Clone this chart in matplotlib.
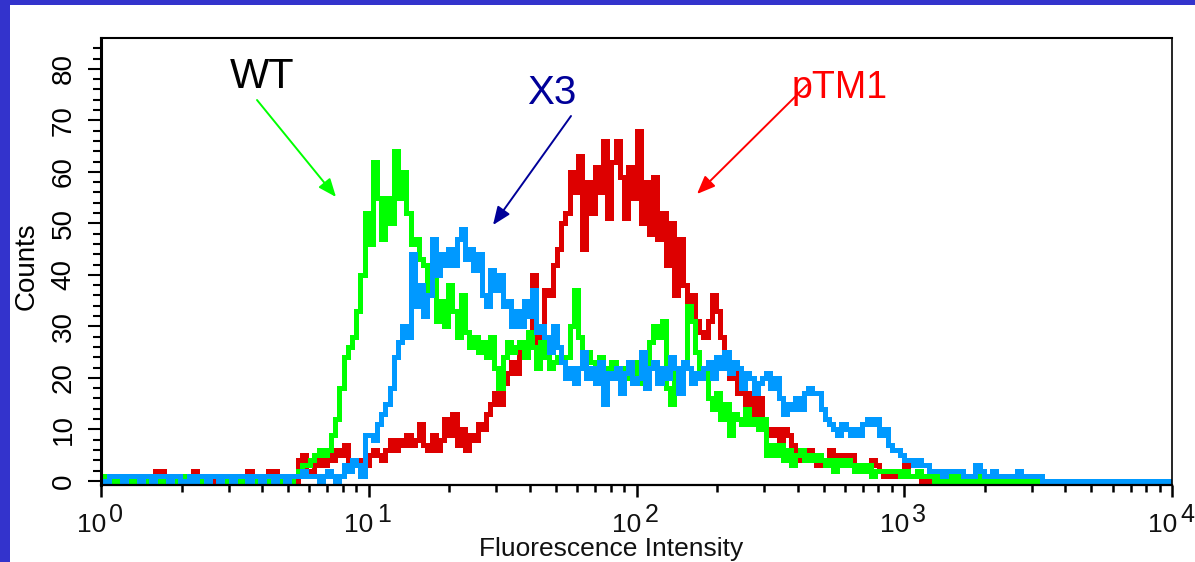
import numpy as np
import matplotlib
matplotlib.use("Agg")
import matplotlib.pyplot as plt
import matplotlib.transforms as mtransforms
from matplotlib.patches import Rectangle
from matplotlib.ticker import FixedLocator, NullFormatter

# ---------------- data (256 log channels, 10^0 .. 10^4) ----------------
wt_counts = (
    [1,1,0,0,0,0,0,0,0,0, 0,0,0,0,0,0,0,0,1,1, 1,0,0,0,0,0,1,1,0,0,
     0,0,0,0,0,0,0,0,0,0, 0,0,0,0,0]
    + [0,1,2,3,3, 4,5,6,5,6, 9,12,18,24,26,28,33,40,52]
    + [46,62,55,47,55,50,64,55,60,52,
       46,47,43,42,36,44,31,35,30,38,
       33,28,36,29,26,28,25,27,24,28,
       22,18,24,27,25,26,27,24,29,26,
       22,27,24,22,23,24,23,24,30,37,
       28,24,25,23,21,24,22,20,23,22,
       19,22,20,23]
    + [19,22,20,27,30,28,31,18,15,22,
       21,23,34,31,25,20,22,16,14,17,
       12,15,9,13,12,11,14,11,12,10,
       12,5,7,5,7,4,6,3,5,6,
       4,5,4,5,4,3,4,2,4,3,
       4,3,2,3,2,3,1,2,2,2,
       2,2,2,1]
    + [2,1,1,2,1,1,1,0,1,0,
       1,0,1,0,1,0,0,1,0,0,
       1,0,0,1,0,0,0,0,0,1]
    + [0] * 34
)

x3_counts = (
    [0,0,1,1,1,0,1,1,1,0, 1,1,0,1,1,1,0,1,1,0, 0,1,0,1,1,0,1,1,0,1,
     1,0,1,1,1,0,1,1,0,1, 1,0,1,1,0,1,1,1,2,1]
    + [1,1,0,1,2,1,0,1,3,2,4,3,1,9]
    + [9,8,11,13,15,18,24,27,30,28,
       44,34,38,32,36,47,40,44,42,45,
       42,47,49,43,45,41,44,36,34,41,
       37,40,34,35,30,33,30,35,32,37,
       29,30,28,25,30,26,23,20,22,19,
       22,25,20,22,19,23,15,21,20,22,
       17,21,23,19]
    + [20,25,18,22,23,19,22,20,24,22,
       17,23,22,19,21,20,22,23,20,24,
       22,25,21,23,22,18,21,20,17,19,
       20,21,18,20,16,13,15,14,16,14,
       17,18,17,17,14,12,11,10,9,11,
       10,9,10,9,11,12,11,12,9,10,
       7,6,6,5]
    + [4,4,3,4,3,3,2,2,2,1,
       2,2,2,2,1,1,1,3,2,1,
       1,2,1,1,1,1,1,2,1,1,
       1,1,1]
    + [0] * 31
)

ptm1_counts = (
    [0,0,0,0,0,1,0,0,0,0, 0,0,1,2,2,1,0,0,0,0, 0,1,2,1,0,0,0,0,0,0,
     0,0,0,0,1,2,1,0,0,1, 2,2,1,0,0,1,0]
    + [4,5,2,1,3,4,3,5,4,6,5,7,4,4,3,4,3]
    + [5,6,5,4,6,8,6,8,7,9,
       7,8,11,7,6,9,6,8,12,9,
       13,7,10,6,9,8,11,10,13,15,
       17,15,19,21,23,21,26,24,27,40,
       26,30,37,36,42,45,50,52,60,56,
       63,45,58,52,61,56,66,51,62,66,
       59,51,61,55]
    + [68,50,58,48,59,47,52,42,50,36,
       47,38,33,36,31,29,28,31,36,33,
       28,24,20,22,17,19,15,17,13,16,
       12,10,9,10,8,10,9,7,6,4,
       5,6,5,3,3,4,6,5,4,5,
       4,5,3,2,3,2,4,3,2,1,
       2,1,1,2]
    + [3,1,1,1,0,0,0,1,0,1,
       0,0,0,0,0,0,0,0,1,0]
    + [0] * 44
)

assert len(wt_counts) == 256 and len(x3_counts) == 256 and len(ptm1_counts) == 256

n_channels = 256
decade_min, decade_max = 0, 4
x_tick_exponents = ["0", "1", "2", "3", "4"]
y_ticks = [0, 10, 20, 30, 40, 50, 60, 70, 80]
y_tick_labels = [str(v) for v in y_ticks]

series_labels = ["WT", "X3", "pTM1"]
line_colors = {"WT": "#00FF00", "X3": "#0099FF", "pTM1": "#DD0000"}
label_colors = {"WT": "#000000", "X3": "#000099", "pTM1": "#FF0000"}
arrow_colors = {"WT": "#00FF00", "X3": "#000099", "pTM1": "#FF0000"}

# ---------------- figure ----------------
W, H = 1195, 562
fig = plt.figure(figsize=(W / 100, H / 100), dpi=100)
fig.patch.set_facecolor("#3333CC")
# white panel inside the blue frame
fig.patches.append(Rectangle((10 / W, 0), 1 - 10 / W, 1 - 5 / H,
                             transform=fig.transFigure, facecolor="white",
                             edgecolor="none", zorder=-10))

ax = fig.add_axes([101 / W, 1 - 485 / H, (1172 - 101) / W, (485 - 38) / H])
ax.set_zorder(1)
ax.set_facecolor("white")

lw = 3.6
edges = np.logspace(decade_min, decade_max, n_channels + 1)
ax.stairs(ptm1_counts, edges, color=line_colors["pTM1"], lw=lw, baseline=None, zorder=2)
ax.stairs(wt_counts, edges, color=line_colors["WT"], lw=lw, baseline=None, zorder=3)
ax.stairs(x3_counts, edges, color=line_colors["X3"], lw=lw, baseline=None, zorder=4)

ax.set_xscale("log")
ax.set_xlim(10 ** decade_min, 10 ** decade_max)
ax.set_ylim(-0.8, 86)

# spines
ax.spines["left"].set_linewidth(2.2)
ax.spines["bottom"].set_linewidth(1.6)
ax.spines["top"].set_linewidth(1.5)
ax.spines["right"].set_linewidth(1.2)
for s in ax.spines.values():
    s.set_color("black")
    s.set_zorder(5)

# y ticks
ax.yaxis.set_major_locator(FixedLocator(y_ticks))
ax.yaxis.set_minor_locator(FixedLocator(np.arange(0, 86, 2)))
ax.set_yticklabels(y_tick_labels, rotation=90, va="center",
                   family="Liberation Sans", fontsize=20)
ax.tick_params(axis="y", which="major", direction="out", length=9.5, width=1.5, pad=8)
ax.tick_params(axis="y", which="minor", direction="out", length=5.8, width=1.5)

# x ticks
ax.xaxis.set_major_locator(FixedLocator([10.0 ** k for k in range(decade_min, decade_max + 1)]))
minor = [m * 10.0 ** k for k in range(decade_min, decade_max) for m in range(2, 10)]
ax.xaxis.set_minor_locator(FixedLocator(minor))
ax.xaxis.set_major_formatter(NullFormatter())
ax.xaxis.set_minor_formatter(NullFormatter())
ax.tick_params(axis="x", which="major", direction="out", length=8.6, width=1.8)
ax.tick_params(axis="x", which="minor", direction="out", length=5, width=1.8)

# x tick labels as "10" + raised exponent
blend = mtransforms.blended_transform_factory(ax.transData, fig.transFigure)
for k, exp in zip(range(decade_min, decade_max + 1), x_tick_exponents):
    xv = 10.0 ** k
    t_base = mtransforms.offset_copy(blend, fig=fig, x=5, y=0, units="dots")
    t_exp = mtransforms.offset_copy(blend, fig=fig, x=8, y=0, units="dots")
    ax.text(xv, 30 / H, "10", transform=t_base, ha="right", va="baseline",
            fontsize=19, family="Liberation Sans", color="#111111", clip_on=False)
    ax.text(xv, 40 / H, exp, transform=t_exp, ha="left", va="baseline",
            fontsize=18, family="Liberation Sans", color="#111111", clip_on=False)

# axis labels
fig.text(611 / W, 6 / H, "Fluorescence Intensity", ha="center", va="baseline",
         fontsize=19, family="Liberation Sans", color="#111111")
fig.text(27 / W, 1 - 266 / H, "Counts", ha="center", va="center", rotation=90,
         fontsize=20, family="Liberation Sans", color="black")

# annotations (figure pixel coords)
labels_pos = {"WT": (262, 474, 30), "X3": (552, 458, 29), "pTM1": (840, 464, 27)}
arrows = {"WT": ((257, 462), (336, 365)),
          "X3": ((571, 446), (493, 337)),
          "pTM1": ((807, 477), (697, 368))}
for name in series_labels:
    x, y, fs = labels_pos[name]
    fig.text(x / W, y / H, name, ha="center", va="baseline", fontsize=fs,
             family="Liberation Sans", color=label_colors[name], zorder=10)
    (x0, y0), (x1, y1) = arrows[name]
    ax.annotate("", xy=(x1, y1), xytext=(x0, y0),
                xycoords="figure pixels", textcoords="figure pixels",
                arrowprops=dict(arrowstyle="-|>,head_length=1.1,head_width=0.45",
                                mutation_scale=10, color=arrow_colors[name],
                                lw=1.4, shrinkA=0, shrinkB=0),
                annotation_clip=False, zorder=10)

fig.savefig("out.png", dpi=100, facecolor=fig.get_facecolor())
